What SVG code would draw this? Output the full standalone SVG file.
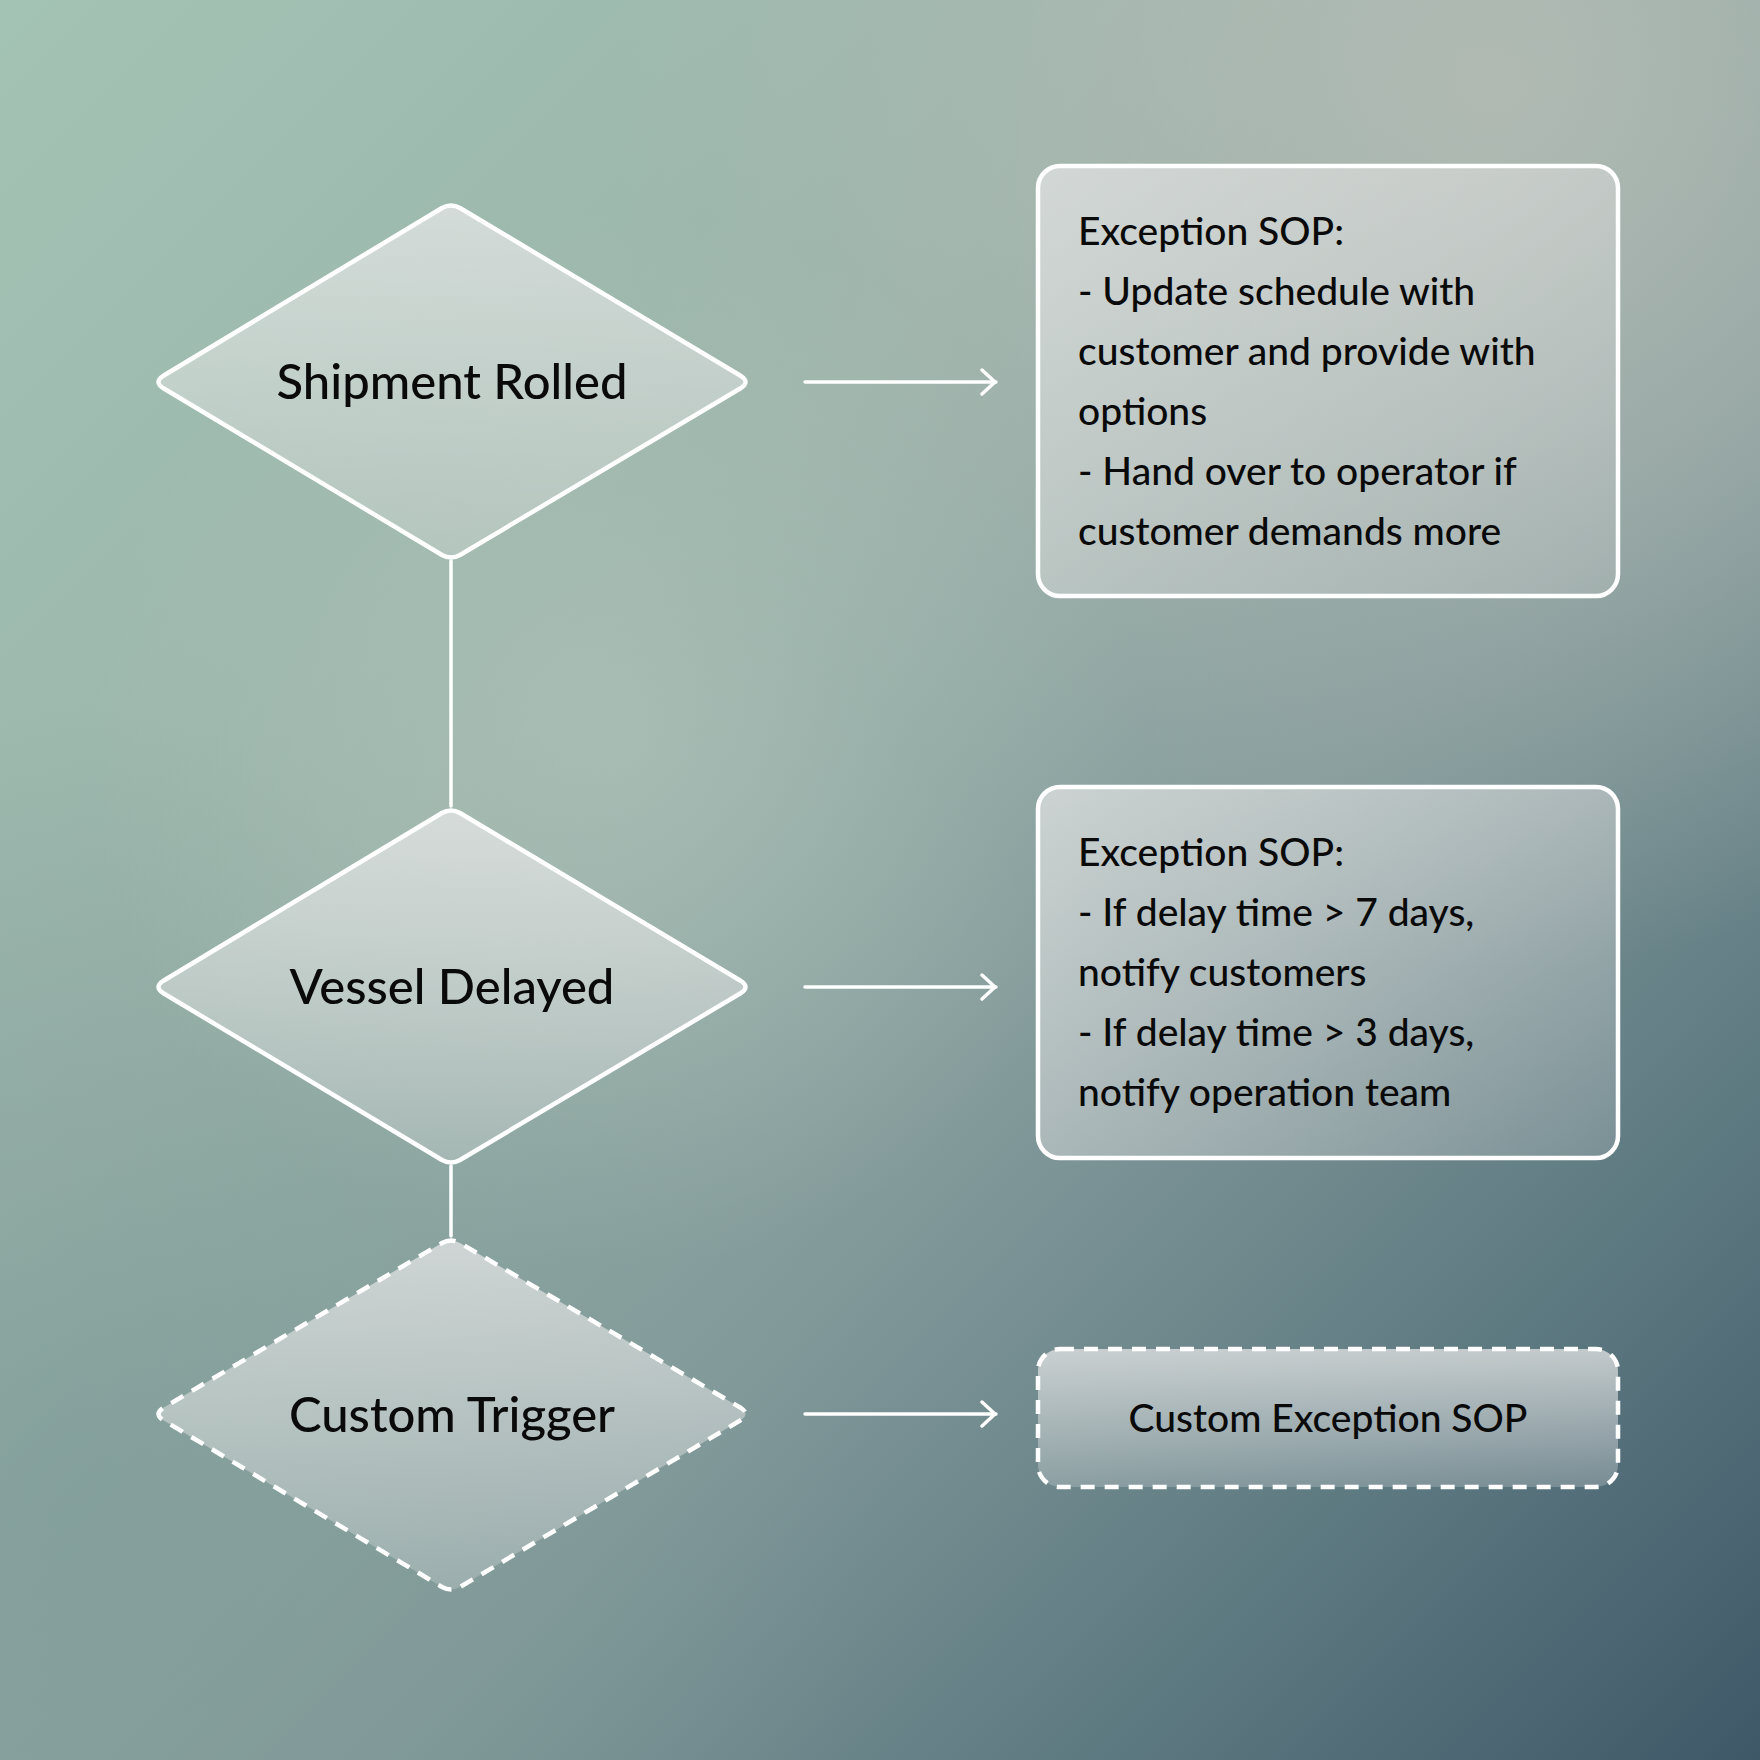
<svg xmlns="http://www.w3.org/2000/svg" width="1760" height="1760" viewBox="0 0 1760 1760">
<defs>
<linearGradient id="bg" x1="0" y1="0" x2="1" y2="1">
<stop offset="0" stop-color="#a3c3b4"/>
<stop offset="0.35" stop-color="#9ab3aa"/>
<stop offset="0.6" stop-color="#82999a"/>
<stop offset="0.8" stop-color="#5f7b82"/>
<stop offset="1" stop-color="#3f5868"/>
</linearGradient>
<radialGradient id="glow1" cx="0.85" cy="0.05" r="0.5">
<stop offset="0" stop-color="#b4bcb5" stop-opacity="0.9"/>
<stop offset="1" stop-color="#b4bcb5" stop-opacity="0"/>
</radialGradient>
<radialGradient id="glow2" cx="0.05" cy="0.85" r="0.45">
<stop offset="0" stop-color="#7f9c98" stop-opacity="0.7"/>
<stop offset="1" stop-color="#7f9c98" stop-opacity="0"/>
</radialGradient>
<radialGradient id="glow3" cx="0.35" cy="0.42" r="0.3">
<stop offset="0" stop-color="#b3c5bb" stop-opacity="0.6"/>
<stop offset="1" stop-color="#b3c5bb" stop-opacity="0"/>
</radialGradient>
<linearGradient id="fill" x1="0" y1="0" x2="0" y2="1">
<stop offset="0" stop-color="#e6e6e6" stop-opacity="0.75"/>
<stop offset="1" stop-color="#e6e6e6" stop-opacity="0.25"/>
</linearGradient>
<linearGradient id="fillbox" x1="0" y1="0" x2="1" y2="1">
<stop offset="0" stop-color="#e6e6e6" stop-opacity="0.7"/>
<stop offset="1" stop-color="#dcdcdc" stop-opacity="0.2"/>
</linearGradient>
<marker id="arr" viewBox="0 0 20 30" refX="18" refY="15" markerWidth="20" markerHeight="30" markerUnits="userSpaceOnUse" orient="auto">
<path d="M4 3 L17 15 L4 27" fill="none" stroke="#ffffff" stroke-width="3.5" stroke-linecap="round" stroke-linejoin="round"/>
</marker>
</defs>
<style>
.shape{fill:url(#fill);stroke:#ffffff;stroke-width:4.5;stroke-linejoin:round}
.box{fill:url(#fillbox);stroke:#ffffff;stroke-width:4.5}
.dash{stroke-dasharray:14 10}
.lbl{font-family:"Lato","Noto Sans",sans-serif;font-size:49px;fill:#0a0a0a;text-anchor:middle;font-weight:500}
.txt{font-family:"Lato","Noto Sans",sans-serif;font-size:39px;fill:#0a0a0a;font-weight:500}
.conn{stroke:#ffffff;stroke-width:3.5;fill:none;stroke-linecap:round}
</style>
<rect width="1760" height="1760" fill="url(#bg)"/>
<rect width="1760" height="1760" fill="url(#glow1)"/>
<rect width="1760" height="1760" fill="url(#glow2)"/>
<rect width="1760" height="1760" fill="url(#glow3)"/>

<g id="connectors">
<line class="conn" x1="451" y1="561" x2="451" y2="806"/>
<line class="conn" x1="451" y1="1166" x2="451" y2="1236"/>
<line class="conn" x1="805" y1="382" x2="996" y2="382" marker-end="url(#arr)"/>
<line class="conn" x1="805" y1="987" x2="996" y2="987" marker-end="url(#arr)"/>
<line class="conn" x1="805" y1="1414" x2="996" y2="1414" marker-end="url(#arr)"/>
</g>

<g id="shipment-rolled">
<path class="shape" d="M442 208 Q451 203 460 208 L741 376 Q750 382 741 388 L460 555 Q451 560 442 555 L163 388 Q154 382 163 376 Z"/>
<text class="lbl" x="452" y="399">Shipment Rolled</text>
</g>

<g id="vessel-delayed">
<path class="shape" d="M442 813 Q451 808 460 813 L741 981 Q750 987 741 993 L460 1160 Q451 1165 442 1160 L163 993 Q154 987 163 981 Z"/>
<text class="lbl" x="452" y="1004">Vessel Delayed</text>
</g>

<g id="custom-trigger">
<path class="shape dash" d="M442 1243 Q451 1238 460 1243 L741 1408 Q750 1414 741 1420 L460 1587 Q451 1592 442 1587 L163 1420 Q154 1414 163 1408 Z"/>
<text class="lbl" x="452" y="1432">Custom Trigger</text>
</g>

<g id="sop-1">
<rect class="box" x="1038" y="166" width="580" height="430" rx="22"/>
<text class="txt" x="1078" y="245">Exception SOP:</text>
<text class="txt" x="1078" y="305">- Update schedule with</text>
<text class="txt" x="1078" y="365">customer and provide with</text>
<text class="txt" x="1078" y="425">options</text>
<text class="txt" x="1078" y="485">- Hand over to operator if</text>
<text class="txt" x="1078" y="545">customer demands more</text>
</g>

<g id="sop-2">
<rect class="box" x="1038" y="787" width="580" height="371" rx="22"/>
<text class="txt" x="1078" y="866">Exception SOP:</text>
<text class="txt" x="1078" y="926">- If delay time &gt; 7 days,</text>
<text class="txt" x="1078" y="986">notify customers</text>
<text class="txt" x="1078" y="1046">- If delay time &gt; 3 days,</text>
<text class="txt" x="1078" y="1106">notify operation team</text>
</g>

<g id="sop-custom">
<rect class="box dash" x="1038" y="1349" width="580" height="138" rx="22" style="fill:url(#fill)"/>
<text class="txt" x="1328" y="1432" text-anchor="middle">Custom Exception SOP</text>
</g>
</svg>
